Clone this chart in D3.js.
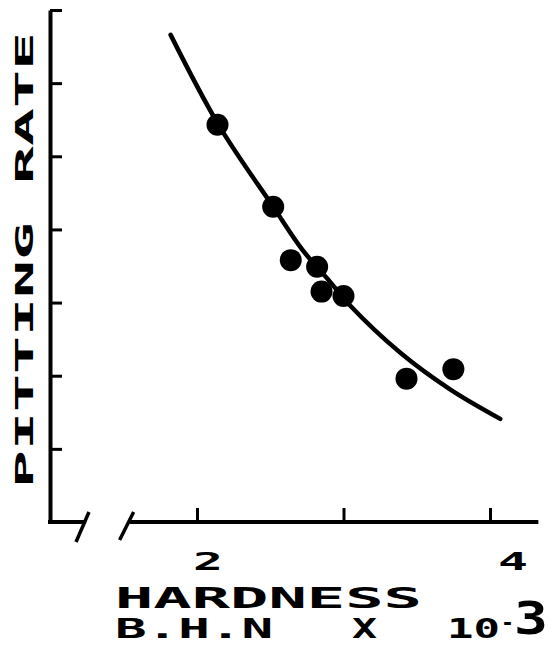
<!DOCTYPE html>
<html>
<head>
<meta charset="utf-8">
<script src="https://cdn.jsdelivr.net/npm/d3@7"></script>
<style>
  body { margin: 0; background: #fff; }
  text { font-family: "DejaVu Sans Mono", monospace; font-weight: bold; fill: #000; }
</style>
</head>
<body>
<div id="chart"></div>
<script>
// measured points (hardness in B.H.N x 10^-3, pitting rate in axis units)
const hardness = [2.14, 2.52, 2.64, 2.82, 2.85, 3.00, 3.43, 3.75];
const pittingRate = [5.43, 4.31, 3.58, 3.49, 3.15, 3.09, 1.96, 2.09];

// hand drawn trend curve
const fitHardness = [1.82, 2.15, 2.52, 2.72, 2.91, 3.04, 3.39, 3.73, 4.07];
const fitRate = [6.66, 5.42, 4.31, 3.72, 3.28, 2.97, 2.31, 1.81, 1.41];

const xTickValues = [2, 3, 4];
const xTickLabels = ["2", "", "4"];
const yTickValues = [1, 2, 3, 4, 5, 6, 7];

const w = 554, h = 645;

const x = d3.scaleLinear().domain([2, 4]).range([197, 490]);
const y = d3.scaleLinear().domain([0, 7]).range([522, 10]);

const svg = d3.select("#chart").append("svg")
  .attr("width", w).attr("height", h);

// y axis, ticks pointing inward
const yAxis = d3.axisLeft(y).tickValues(yTickValues)
  .tickSizeInner(-12).tickSizeOuter(0).tickFormat("");
const gy = svg.append("g").attr("transform", "translate(50,0)").call(yAxis);
gy.select(".domain").attr("stroke-width", 4);
gy.selectAll(".tick line").attr("stroke-width", 3);

// x axis (broken near the origin)
const xAxis = d3.axisBottom(x).tickValues(xTickValues)
  .tickSizeInner(-14).tickSizeOuter(0).tickFormat("");
const gx = svg.append("g").attr("transform", "translate(0,522)").call(xAxis);
gx.select(".domain").remove();
gx.selectAll(".tick line").attr("stroke-width", 3);

svg.append("line")
  .attr("x1", x(1.54)).attr("x2", x(4.33))
  .attr("y1", 522).attr("y2", 522)
  .attr("stroke", "#000").attr("stroke-width", 4);

// stub + break marks
svg.append("line").attr("x1", 48).attr("x2", 84).attr("y1", 522).attr("y2", 522)
  .attr("stroke", "#000").attr("stroke-width", 4);
svg.append("line").attr("x1", 89).attr("y1", 512).attr("x2", 76).attr("y2", 542)
  .attr("stroke", "#000").attr("stroke-width", 3.5);
svg.append("line").attr("x1", x(1.54) + 4).attr("y1", 512).attr("x2", x(1.54) - 10).attr("y2", 540)
  .attr("stroke", "#000").attr("stroke-width", 3.5);

// x tick labels
const labelShift = [-4, 0, 8];
svg.selectAll(".xlab")
  .data(xTickValues)
  .enter().append("text")
  .attr("class", "xlab")
  .attr("x", (d, i) => x(d) + labelShift[i])
  .attr("y", 570)
  .attr("font-size", 25)
  .attr("textLength", 30)
  .attr("lengthAdjust", "spacingAndGlyphs")
  .text((d, i) => xTickLabels[i]);

// x axis title
const title = svg.append("g").attr("class", "xtitle");
title.append("text")
  .attr("x", 115).attr("y", 608)
  .attr("font-size", 27.5)
  .attr("textLength", 307)
  .attr("lengthAdjust", "spacingAndGlyphs")
  .text("HARDNESS");

const unitParts = [
  { t: "B.H.N", x: 115, len: 158 },
  { t: "X", x: 352, len: 25 },
  { t: "10", x: 447, len: 53 }
];
title.selectAll(".unit")
  .data(unitParts)
  .enter().append("text")
  .attr("class", "unit")
  .attr("x", d => d.x).attr("y", 638)
  .attr("font-size", 26)
  .attr("textLength", d => d.len)
  .attr("lengthAdjust", "spacingAndGlyphs")
  .text(d => d.t);

// exponent: minus sign sits high, the 3 is large
title.append("text")
  .attr("x", 501).attr("y", 630)
  .attr("font-size", 22)
  .attr("textLength", 13)
  .attr("lengthAdjust", "spacingAndGlyphs")
  .text("-");
title.append("text")
  .attr("x", 514).attr("y", 634)
  .attr("font-size", 45)
  .attr("textLength", 34)
  .attr("lengthAdjust", "spacingAndGlyphs")
  .text("3");

// y axis title
svg.append("text")
  .attr("transform", "translate(33,488) rotate(-90)")
  .attr("font-size", 24)
  .attr("textLength", 456)
  .attr("lengthAdjust", "spacingAndGlyphs")
  .text("PITTING RATE");

// trend curve
const line = d3.line()
  .x(d => x(d[0]))
  .y(d => y(d[1]))
  .curve(d3.curveCatmullRom);

svg.append("path")
  .datum(fitHardness.map((d, i) => [d, fitRate[i]]))
  .attr("d", line)
  .attr("fill", "none")
  .attr("stroke", "#000")
  .attr("stroke-width", 4.5)
  .attr("stroke-linecap", "round");

// data points
svg.selectAll("circle")
  .data(hardness.map((d, i) => [d, pittingRate[i]]))
  .enter().append("circle")
  .attr("cx", d => x(d[0]))
  .attr("cy", d => y(d[1]))
  .attr("r", 11)
  .attr("fill", "#000");
</script>
</body>
</html>
